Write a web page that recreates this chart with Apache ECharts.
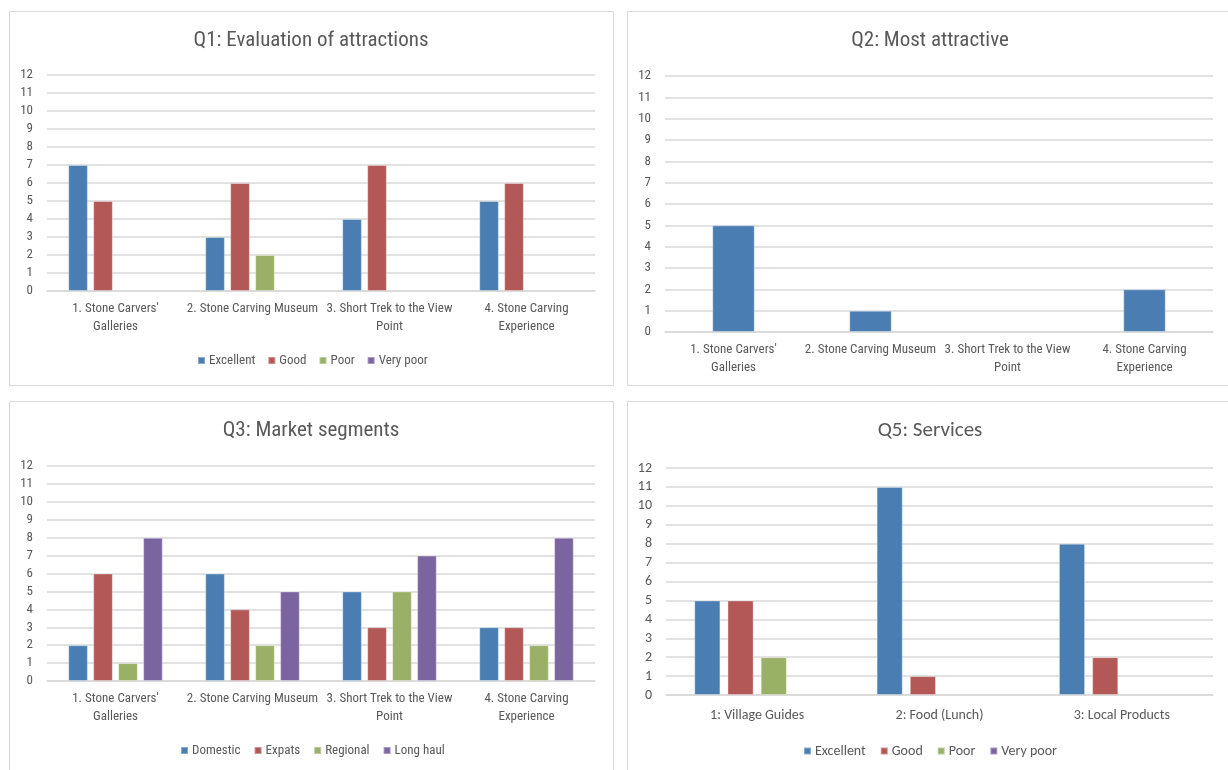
<!DOCTYPE html>
<html>
<head>
<meta charset="utf-8">
<title>Survey results</title>
<script src="https://cdn.jsdelivr.net/npm/echarts@6/dist/echarts.min.js"></script>
<style>
  html, body { margin: 0; padding: 0; background: #ffffff; }
  #chart { width: 1228px; height: 770px; }
</style>
</head>
<body>
<div id="chart"></div>
<script>
// ---- data ----
const attractions = ["1. Stone Carvers'\nGalleries", "2. Stone Carving Museum", "3. Short Trek to the View\nPoint", "4. Stone Carving\nExperience"];
const services = ["1: Village Guides", "2: Food (Lunch)", "3: Local Products"];
const ratingNames = ["Excellent", "Good", "Poor", "Very poor"];
const segmentNames = ["Domestic", "Expats", "Regional", "Long haul"];
const yTicks = [0, 1, 2, 3, 4, 5, 6, 7, 8, 9, 10, 11, 12];

// Q1: Evaluation of attractions
const q1Excellent = [7, 3, 4, 5];
const q1Good = [5, 6, 7, 6];
const q1Poor = [0, 2, 0, 0];
const q1VeryPoor = [0, 0, 0, 0];

// Q2: Most attractive
const q2Votes = [5, 1, 0, 2];

// Q3: Market segments
const q3Domestic = [2, 6, 5, 3];
const q3Expats = [6, 4, 3, 3];
const q3Regional = [1, 2, 5, 2];
const q3LongHaul = [8, 5, 7, 8];

// Q5: Services
const q5Excellent = [5, 11, 8];
const q5Good = [5, 1, 2];
const q5Poor = [2, 0, 0];
const q5VeryPoor = [0, 0, 0];

// ---- styling ----
const palette = ['#4A7EB2', '#B35856', '#9AB066', '#7B65A0'];
const textGray = '#595959';
const gridGray = '#D9D9D9';
const narrow = '"Liberation Sans Narrow", "Arial Narrow", "Roboto Condensed", sans-serif';
const calibriLike = 'Carlito, Lato, "Open Sans", sans-serif';

// empty cells draw no bar
const bars = v => v.map(x => (x === 0 ? null : x));

const yMax = yTicks[yTicks.length - 1];

function yAxis(gridIndex, font, size) {
  return {
    type: 'value', gridIndex, min: yTicks[0], max: yMax, interval: 1,
    axisLine: { show: false }, axisTick: { show: false },
    axisLabel: { color: textGray, fontFamily: font, fontSize: size, margin: 14 },
    splitLine: { lineStyle: { color: gridGray, width: 1.5 } }
  };
}
function xAxis(gridIndex, cats, font, size, margin) {
  return {
    type: 'category', gridIndex, data: cats,
    axisLine: { lineStyle: { color: gridGray, width: 1.5 } },
    axisTick: { show: false },
    axisLabel: { color: textGray, fontFamily: font, fontSize: size, lineHeight: 18, margin, interval: 0 }
  };
}
function barSeries(name, values, idx, axisIndex, catGap) {
  return {
    type: 'bar', name, data: bars(values),
    xAxisIndex: axisIndex, yAxisIndex: axisIndex,
    barGap: '27%', barCategoryGap: catGap,
    itemStyle: { color: palette[idx], borderColor: 'rgba(255,255,255,0.35)', borderWidth: 1 },
    emphasis: { disabled: true }
  };
}
function legend(left, top, names, font, size, gap) {
  return {
    left, top, data: names, icon: 'rect', itemWidth: 7, itemHeight: 7, itemGap: gap,
    selectedMode: false,
    textStyle: { color: textGray, fontFamily: font, fontSize: size, padding: [0, 0, 0, -1] }
  };
}
function titleText(x, y, text, font) {
  return { type: 'text', x, y, silent: true,
    style: { text, fill: textGray, font: '21px ' + font, align: 'center', verticalAlign: 'middle' } };
}
function frame(x, y, w, h) {
  return { type: 'rect', silent: true, shape: { x, y, width: w, height: h },
    style: { fill: null, stroke: gridGray, lineWidth: 1 } };
}

const chart = echarts.init(document.getElementById('chart'), null, { renderer: 'canvas' });

chart.setOption({
  animation: false,
  backgroundColor: '#ffffff',
  grid: [
    { left: 47, top: 75, width: 548, height: 216 },
    { left: 665, top: 76, width: 548, height: 256 },
    { left: 47, top: 466, width: 548, height: 215 },
    { left: 666, top: 468, width: 547, height: 227 }
  ],
  xAxis: [
    xAxis(0, attractions, narrow, 13, 9),
    xAxis(1, attractions, narrow, 13, 9),
    xAxis(2, attractions, narrow, 13, 9),
    xAxis(3, services, calibriLike, 14, 11)
  ],
  yAxis: [yAxis(0, narrow, 13), yAxis(1, narrow, 13), yAxis(2, narrow, 13), yAxis(3, calibriLike, 14)],
  legend: [
    legend(192, 349, ratingNames, narrow, 13, 12),
    legend(175, 739, segmentNames, narrow, 13, 13),
    legend(798, 739, ratingNames, calibriLike, 14, 14)
  ],
  series: [
    barSeries(ratingNames[0], q1Excellent, 0, 0, '31%'),
    barSeries(ratingNames[1], q1Good, 1, 0, '31%'),
    barSeries(ratingNames[2], q1Poor, 2, 0, '31%'),
    barSeries(ratingNames[3], q1VeryPoor, 3, 0, '31%'),

    barSeries('Most attractive', q2Votes, 0, 1, '69%'),

    barSeries(segmentNames[0], q3Domestic, 0, 2, '31%'),
    barSeries(segmentNames[1], q3Expats, 1, 2, '31%'),
    barSeries(segmentNames[2], q3Regional, 2, 2, '31%'),
    barSeries(segmentNames[3], q3LongHaul, 3, 2, '31%'),

    barSeries(ratingNames[0], q5Excellent, 0, 3, '31%'),
    barSeries(ratingNames[1], q5Good, 1, 3, '31%'),
    barSeries(ratingNames[2], q5Poor, 2, 3, '31%'),
    barSeries(ratingNames[3], q5VeryPoor, 3, 3, '31%')
  ],
  graphic: [
    frame(9.5, 11.5, 604, 374),
    frame(627.5, 11.5, 610, 374),
    frame(9.5, 401.5, 604, 380),
    frame(627.5, 401.5, 610, 380),
    titleText(311, 41, 'Q1: Evaluation of attractions', narrow),
    titleText(930, 41, 'Q2: Most attractive', narrow),
    titleText(311, 431, 'Q3: Market segments', narrow),
    titleText(930, 431, 'Q5: Services', calibriLike)
  ]
});
</script>
</body>
</html>
